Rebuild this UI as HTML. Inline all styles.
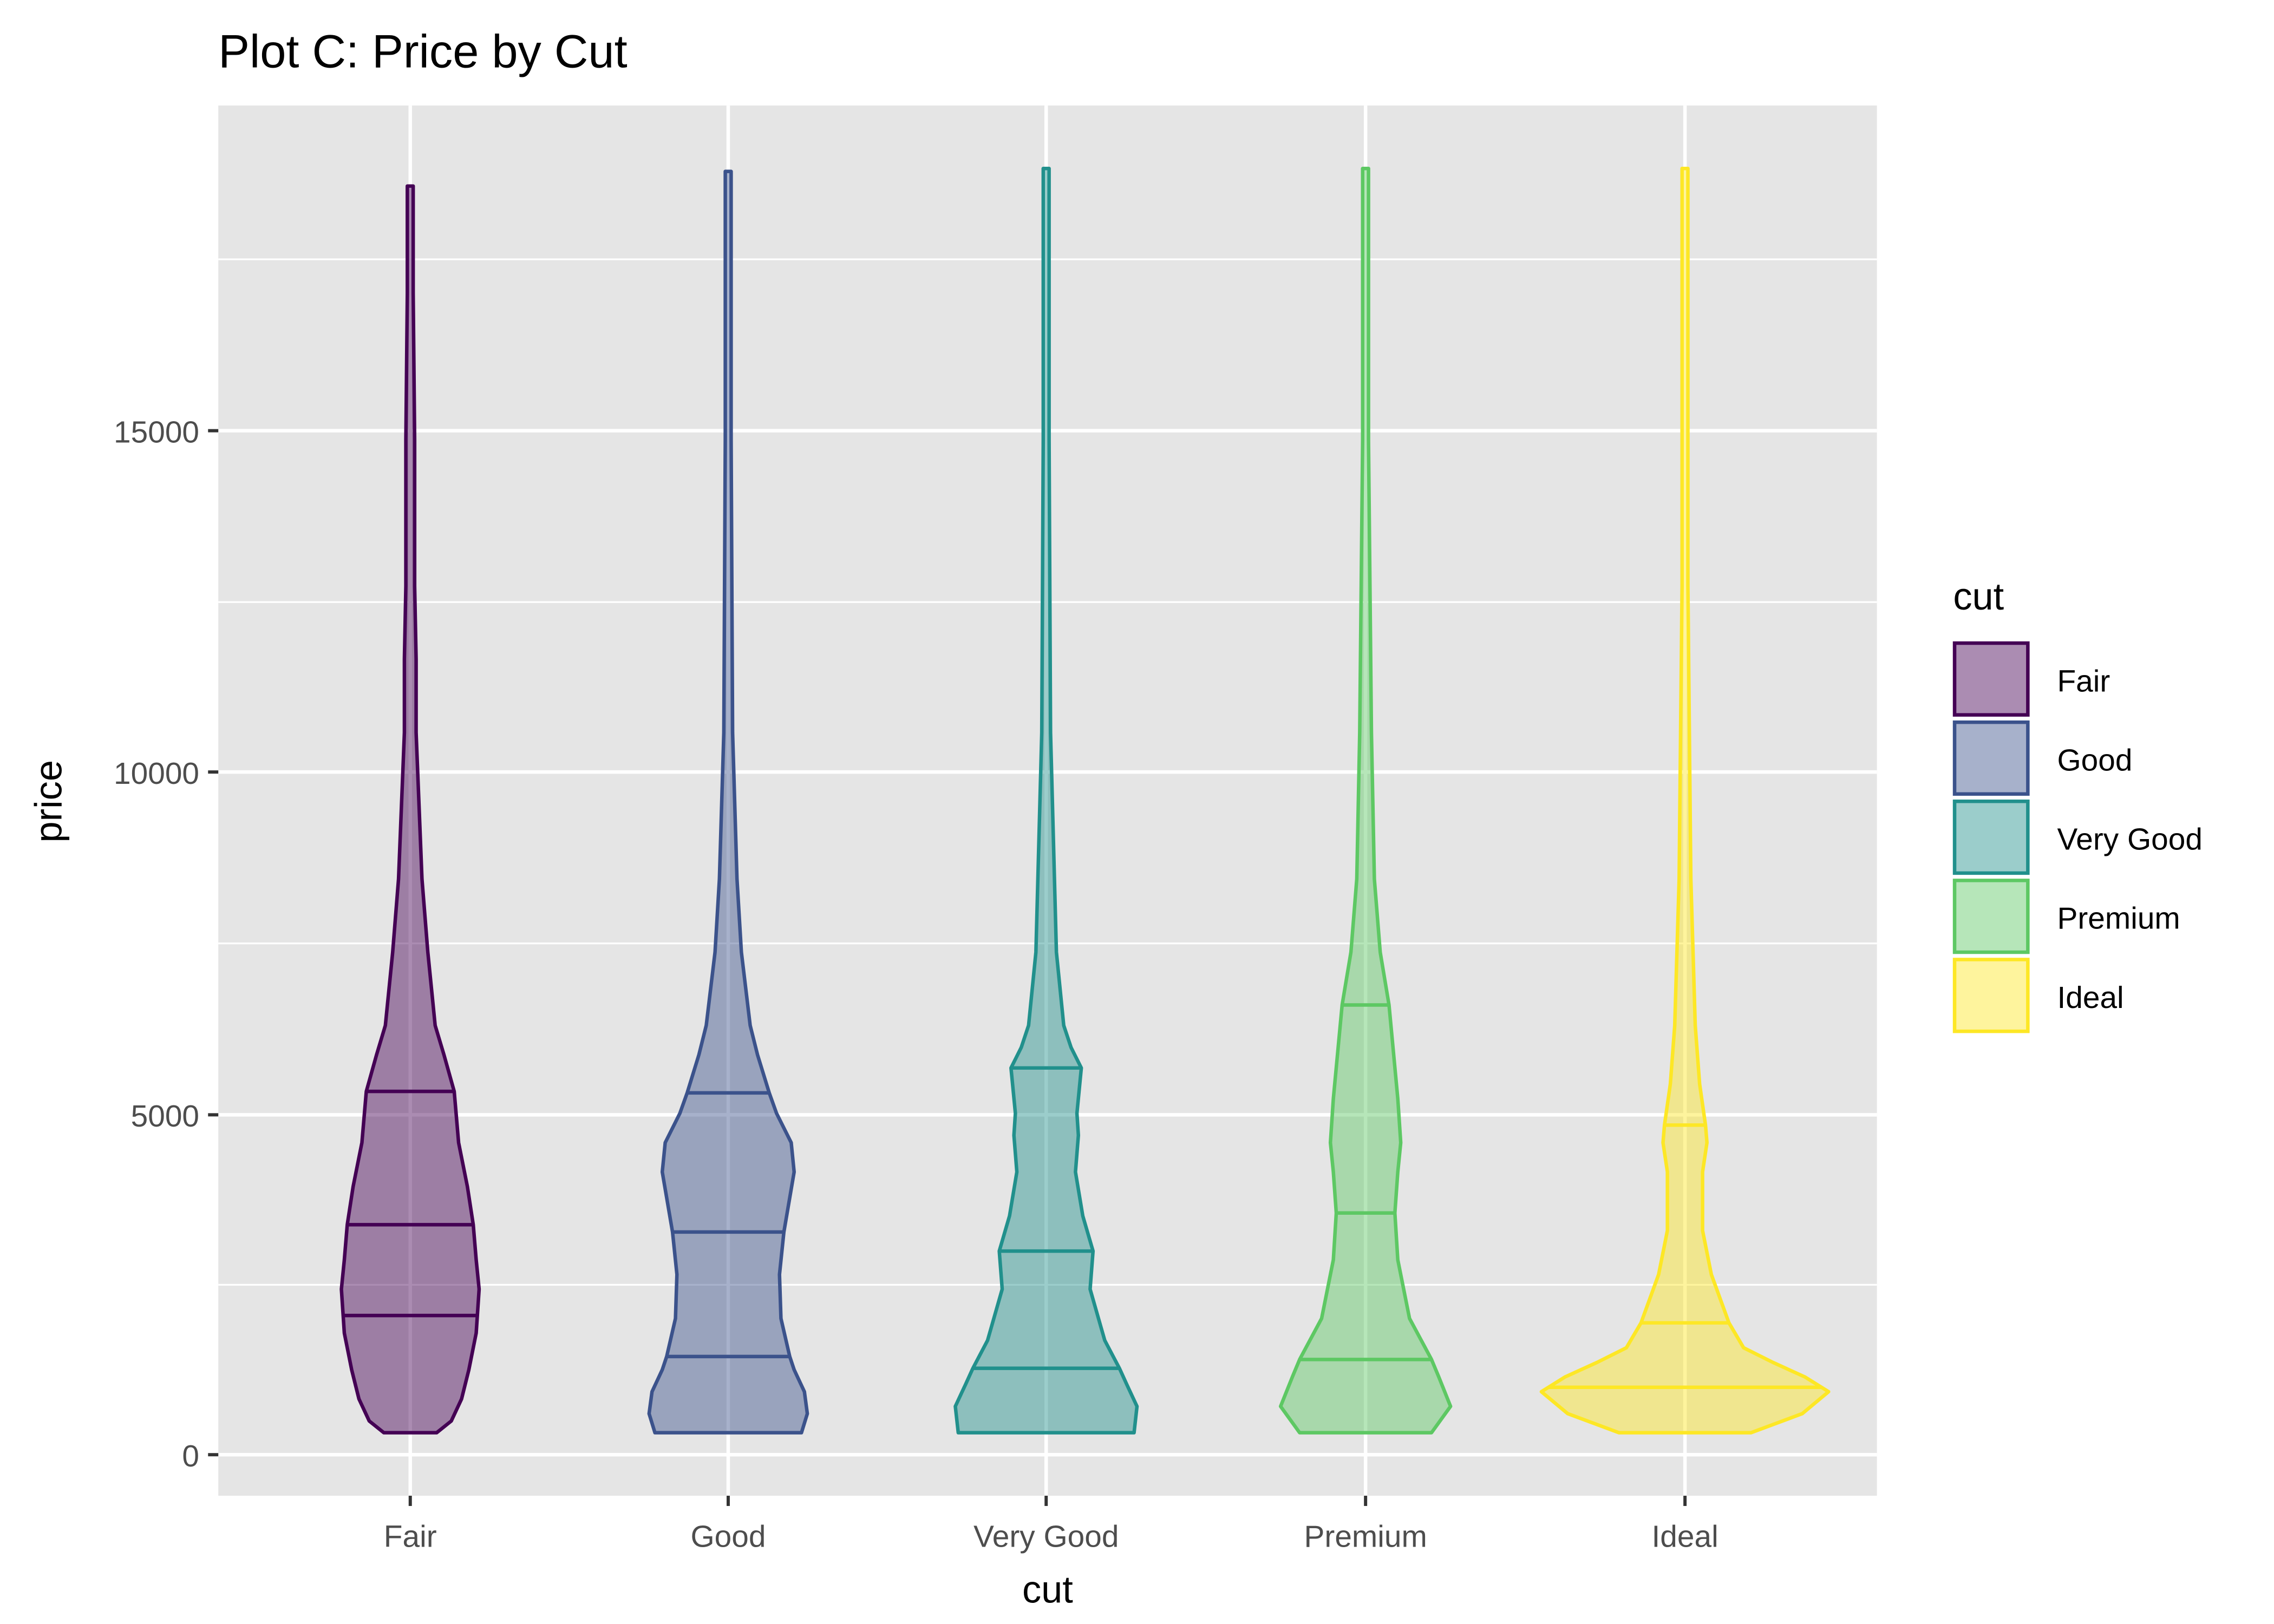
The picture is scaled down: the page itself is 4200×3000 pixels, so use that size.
<!DOCTYPE html>
<html><head><meta charset="utf-8"><style>html,body{margin:0;padding:0;background:#fff}svg{display:block}</style></head>
<body>
<svg id="s" width="4200" height="3000" viewBox="0 0 1552 1108.57" preserveAspectRatio="none" xmlns="http://www.w3.org/2000/svg" font-family="Liberation Sans, Arial, sans-serif">
<rect x="0" y="0" width="1552" height="1109" fill="#fff"/>
<rect x="149" y="72" width="1132" height="949" fill="#e5e5e5"/>
<g stroke="#fff" stroke-width="1.2">
<line x1="149" x2="1281" y1="877" y2="877"/><line x1="149" x2="1281" y1="644" y2="644"/>
<line x1="149" x2="1281" y1="411" y2="411"/><line x1="149" x2="1281" y1="177" y2="177"/>
</g>
<g stroke="#fff" stroke-width="2.4">
<line x1="149" x2="1281" y1="993" y2="993"/><line x1="149" x2="1281" y1="761" y2="761"/>
<line x1="149" x2="1281" y1="527" y2="527"/><line x1="149" x2="1281" y1="294" y2="294"/>
<line x1="280" x2="280" y1="72" y2="1021"/><line x1="497" x2="497" y1="72" y2="1021"/>
<line x1="714" x2="714" y1="72" y2="1021"/><line x1="932" x2="932" y1="72" y2="1021"/>
<line x1="1150" x2="1150" y1="72" y2="1021"/>
</g>
<g id="v"></g>
<g fill="#4d4d4d" font-size="21" text-anchor="end">
<text x="136" y="1001">0</text><text x="136" y="769">5000</text><text x="136" y="535">10000</text><text x="136" y="302">15000</text>
</g>
<g stroke="#333" stroke-width="2.2">
<line x1="142" x2="149" y1="993" y2="993"/><line x1="142" x2="149" y1="761" y2="761"/><line x1="142" x2="149" y1="527" y2="527"/><line x1="142" x2="149" y1="294" y2="294"/>
<line x1="280" x2="280" y1="1021" y2="1028"/><line x1="497" x2="497" y1="1021" y2="1028"/><line x1="714" x2="714" y1="1021" y2="1028"/><line x1="932" x2="932" y1="1021" y2="1028"/><line x1="1150" x2="1150" y1="1021" y2="1028"/>
</g>
<g fill="#4d4d4d" font-size="21" text-anchor="middle">
<text x="280" y="1056">Fair</text><text x="497" y="1056">Good</text><text x="714" y="1056">Very Good</text><text x="932" y="1056">Premium</text><text x="1150" y="1056">Ideal</text>
</g>
<text x="715" y="1094" font-size="26" text-anchor="middle">cut</text>
<text transform="translate(42,547) rotate(-90)" font-size="26" text-anchor="middle">price</text>
<text x="149" y="46" font-size="32">Plot C: Price by Cut</text>
<text x="1333" y="416" font-size="26">cut</text>
<g id="lg"></g>
</svg>
<script>
var ns="http://www.w3.org/2000/svg";
var V=[
{x:280,c:"#440154",q:[898,836,745],p:[[978,18],[970,28],[955,35],[935,40],[910,45],[880,47],[860,45],[836,43],[810,39],[780,33],[745,30],[720,23],[700,17],[650,12],[600,8],[550,6],[500,4],[450,4],[400,3],[300,3],[200,2],[127,2]]},
{x:497,c:"#3B528B",q:[926,841,746],p:[[978,50],[965,54],[950,52],[935,45],[926,42],[900,36],[870,35],[841,38],[800,45],[780,43],[760,33],[746,28],[720,20],[700,15],[650,9],[600,6],[500,3],[300,2],[117,2]]},
{x:714,c:"#21908C",q:[934,854,729],p:[[978,60],[960,62],[945,55],[934,50],[915,40],[880,30],[854,32],[830,25],[800,20],[775,22],[760,21],[729,24],[715,17],[700,12],[650,7],[500,3],[300,2],[115,2]]},
{x:932,c:"#5DC863",q:[928,828,686],p:[[978,45],[960,58],[940,50],[928,45],[900,30],[860,22],[828,20],[800,22],[780,24],[750,22],[686,16],[650,10],[600,6],[500,4],[300,2],[115,2]]},
{x:1150,c:"#FDE725",q:[947,903,768],p:[[978,45],[965,80],[950,98],[940,82],[930,60],[920,40],[903,30],[870,18],[840,12],[800,12],[780,15],[768,14],[740,10],[700,7],[600,4],[400,2],[115,2]]}
];
function hw(p,y){for(var i=0;i<p.length-1;i++){var a=p[i],b=p[i+1];if(y<=a[0]&&y>=b[0]){var t=(a[0]-y)/(a[0]-b[0]);return a[1]+t*(b[1]-a[1]);}}return 0;}
var g=document.getElementById("v");
V.forEach(function(v){
 var pts=[];v.p.forEach(function(d){pts.push((v.x+d[1])+","+d[0]);});
 for(var i=v.p.length-1;i>=0;i--){var d=v.p[i];pts.push((v.x-d[1])+","+d[0]);}
 var pl=document.createElementNS(ns,"polygon");pl.setAttribute("points",pts.join(" "));
 pl.setAttribute("fill",v.c);pl.setAttribute("fill-opacity","0.45");pl.setAttribute("stroke",v.c);pl.setAttribute("stroke-width","2.4");pl.setAttribute("stroke-linejoin","round");g.appendChild(pl);
 v.q.forEach(function(y){var w=hw(v.p,y);var l=document.createElementNS(ns,"line");l.setAttribute("x1",v.x-w);l.setAttribute("x2",v.x+w);l.setAttribute("y1",y);l.setAttribute("y2",y);l.setAttribute("stroke",v.c);l.setAttribute("stroke-width","2.4");g.appendChild(l);});
});
var lg=document.getElementById("lg");var names=["Fair","Good","Very Good","Premium","Ideal"];
V.forEach(function(v,i){var y=439+i*54;
 var r=document.createElementNS(ns,"rect");r.setAttribute("x",1334);r.setAttribute("y",y);r.setAttribute("width",50);r.setAttribute("height",49);r.setAttribute("fill",v.c);r.setAttribute("fill-opacity","0.45");r.setAttribute("stroke",v.c);r.setAttribute("stroke-width","2.4");lg.appendChild(r);
 var t=document.createElementNS(ns,"text");t.setAttribute("x",1404);t.setAttribute("y",y+33);t.setAttribute("font-size","21");t.textContent=names[i];lg.appendChild(t);});
</script>
</body></html>
